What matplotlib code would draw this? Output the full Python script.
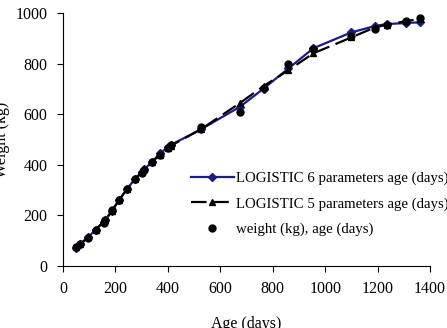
import matplotlib.pyplot as plt

# ages (days) and weights (kg)
age = [50, 65, 95, 125, 155, 162, 187, 215, 245, 275, 300, 310, 340, 370,
       400, 410, 525, 675, 765, 860, 955, 1100, 1190, 1235, 1310, 1360]
weight_obs = [75, 85, 110, 140, 170, 180, 220, 262, 305, 345, 368, 380, 412, 440,
              465, 478, 548, 610, 705, 800, 860, 912, 940, 955, 970, 982]
logistic6 = [72, 84, 112, 143, 175, 182, 218, 262, 305, 345, 370, 382, 412, 445,
             470, 478, 540, 630, 702, 782, 862, 925, 950, 958, 962, 965]
logistic5 = [75, 86, 112, 143, 175, 182, 218, 262, 305, 345, 370, 382, 412, 440,
             465, 475, 540, 645, 712, 775, 842, 905, 945, 955, 970, 978]

plt.rcParams['font.family'] = ['Liberation Serif', 'DejaVu Serif']
fs = 11.5

fig = plt.figure(figsize=(4.47, 3.28), dpi=100)
ax = fig.add_axes([0.141, 0.19, 0.821, 0.769])

ax.plot(age, logistic6, color='#1c1c86', lw=1.6, marker='D', ms=4.5,
        label='LOGISTIC 6 parameters age (days)')
ax.plot(age, logistic5, color='black', lw=1.6, ls=(0, (7, 3)), marker='^', ms=5,
        label='LOGISTIC 5 parameters age (days)')
ax.plot(age, weight_obs, ls='none', color='black', marker='o', ms=5,
        label='weight (kg), age (days)')

ax.set_xlim(0, 1400)
ax.set_ylim(0, 1000)
ax.set_xticks(range(0, 1401, 200))
ax.set_yticks(range(0, 1001, 200))
ax.spines['top'].set_visible(False)
ax.spines['right'].set_visible(False)
ax.tick_params(labelsize=fs, direction='out', length=4, pad=7)
ax.set_xlabel('Age (days)', fontsize=fs, labelpad=14)
ax.set_ylabel('Weight (kg)', fontsize=fs, labelpad=4)

ax.legend(loc='upper left', bbox_to_anchor=(0.332, 0.397), frameon=False,
          fontsize=10.7, handlelength=2.9, handletextpad=0.15,
          labelspacing=0.8, borderaxespad=0)

fig.savefig('out.png', dpi=100)
